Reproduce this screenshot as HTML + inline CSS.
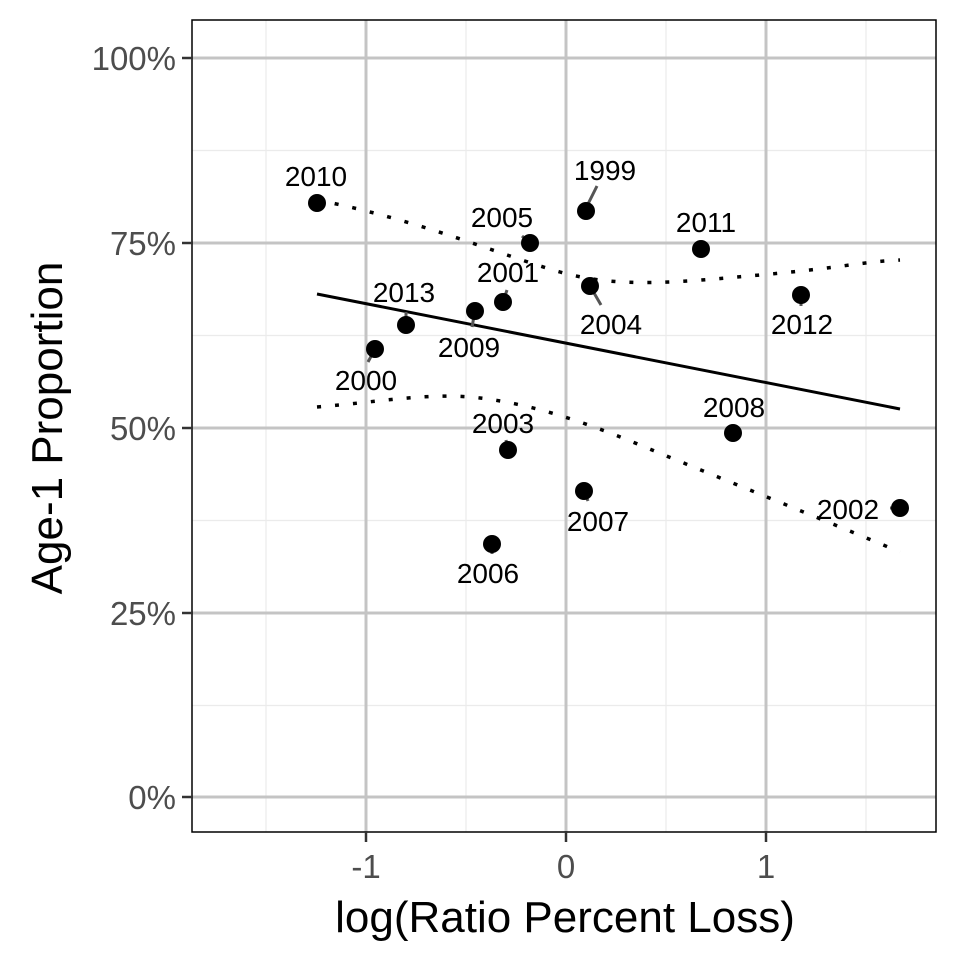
<!DOCTYPE html>
<html><head><style>body{margin:0;background:#fff}svg{display:block}</style></head><body>
<svg width="960" height="960" xmlns="http://www.w3.org/2000/svg" font-family="Liberation Sans, sans-serif">
<rect width="960" height="960" fill="#fff"/>
<g stroke="#ebebeb" stroke-width="1.2">
<line x1="266" y1="20" x2="266" y2="832"/><line x1="466" y1="20" x2="466" y2="832"/><line x1="666" y1="20" x2="666" y2="832"/><line x1="866" y1="20" x2="866" y2="832"/>
<line x1="192" y1="150.5" x2="936" y2="150.5"/><line x1="192" y1="335.5" x2="936" y2="335.5"/><line x1="192" y1="520.5" x2="936" y2="520.5"/><line x1="192" y1="705.5" x2="936" y2="705.5"/>
</g>
<g stroke="#c4c4c4" stroke-width="3">
<line x1="366" y1="20" x2="366" y2="832"/><line x1="566" y1="20" x2="566" y2="832"/><line x1="766" y1="20" x2="766" y2="832"/>
<line x1="192" y1="58" x2="936" y2="58"/><line x1="192" y1="243" x2="936" y2="243"/><line x1="192" y1="428" x2="936" y2="428"/><line x1="192" y1="613" x2="936" y2="613"/><line x1="192" y1="797" x2="936" y2="797"/>
</g>
<rect x="192" y="20" width="744" height="812" fill="none" stroke="#000" stroke-width="1.5"/>
<g stroke="#333" stroke-width="2.5">
<line x1="182" y1="58" x2="192" y2="58"/><line x1="182" y1="243" x2="192" y2="243"/><line x1="182" y1="428" x2="192" y2="428"/><line x1="182" y1="613" x2="192" y2="613"/><line x1="182" y1="797" x2="192" y2="797"/>
<line x1="366" y1="832" x2="366" y2="842"/><line x1="566" y1="832" x2="566" y2="842"/><line x1="766" y1="832" x2="766" y2="842"/>
</g>
<g font-size="33" fill="#4d4d4d" text-anchor="end">
<text x="176" y="70">100%</text><text x="176" y="255">75%</text><text x="176" y="440">50%</text><text x="176" y="625">25%</text><text x="176" y="809">0%</text>
</g>
<g font-size="33" fill="#4d4d4d" text-anchor="middle">
<text x="366" y="878">-1</text><text x="566" y="878">0</text><text x="766" y="878">1</text>
</g>
<text x="565" y="932" font-size="44" text-anchor="middle">log(Ratio Percent Loss)</text>
<text transform="translate(62,428) rotate(-90)" font-size="44" text-anchor="middle">Age-1 Proportion</text>
<line x1="317" y1="294" x2="900" y2="409" stroke="#000" stroke-width="3"/>
<g fill="none" stroke="#000" stroke-width="3.5" stroke-dasharray="4,14">
<path d="M317,200 C420,220 500,255 560,272 S680,282 760,275 S860,262 900,260"/>
<path d="M317,407 C380,402 430,392 480,398 S580,420 640,445 S800,510 900,552"/>
</g>
<g stroke="#555" stroke-width="3">
<line x1="586" y1="208" x2="597" y2="186"/><line x1="530" y1="243" x2="522" y2="236"/><line x1="503" y1="302" x2="507" y2="290"/>
<line x1="590" y1="286" x2="601" y2="305"/><line x1="475" y1="311" x2="472" y2="327"/><line x1="406" y1="325" x2="406" y2="312"/>
<line x1="375" y1="349" x2="368" y2="362"/><line x1="508" y1="450" x2="506" y2="440"/><line x1="584" y1="491" x2="588" y2="501"/>
<line x1="900" y1="508" x2="890" y2="508"/><line x1="492" y1="544" x2="492" y2="554"/><line x1="801" y1="295" x2="801" y2="306"/>
</g>
<g fill="#000">
<circle cx="317" cy="203" r="9"/><circle cx="586" cy="211" r="9"/><circle cx="530" cy="243" r="9"/><circle cx="701" cy="249" r="9"/>
<circle cx="590" cy="286" r="9"/><circle cx="801" cy="295" r="9"/><circle cx="503" cy="302" r="9"/><circle cx="475" cy="311" r="9"/>
<circle cx="406" cy="325" r="9"/><circle cx="375" cy="349" r="9"/><circle cx="733" cy="433" r="9"/><circle cx="508" cy="450" r="9"/>
<circle cx="584" cy="491" r="9"/><circle cx="900" cy="508" r="9"/><circle cx="492" cy="544" r="9"/>
</g>
<g font-size="28" fill="#000" text-anchor="middle">
<text x="316" y="186">2010</text><text x="605" y="180">1999</text><text x="502" y="227">2005</text><text x="706" y="232">2011</text>
<text x="508" y="282">2001</text><text x="611" y="334">2004</text><text x="404" y="302">2013</text><text x="469" y="357">2009</text>
<text x="366" y="390">2000</text><text x="802" y="334">2012</text><text x="734" y="417">2008</text><text x="503" y="433">2003</text>
<text x="598" y="531">2007</text><text x="848" y="519">2002</text><text x="488" y="583">2006</text>
</g>
</svg>
</body></html>
